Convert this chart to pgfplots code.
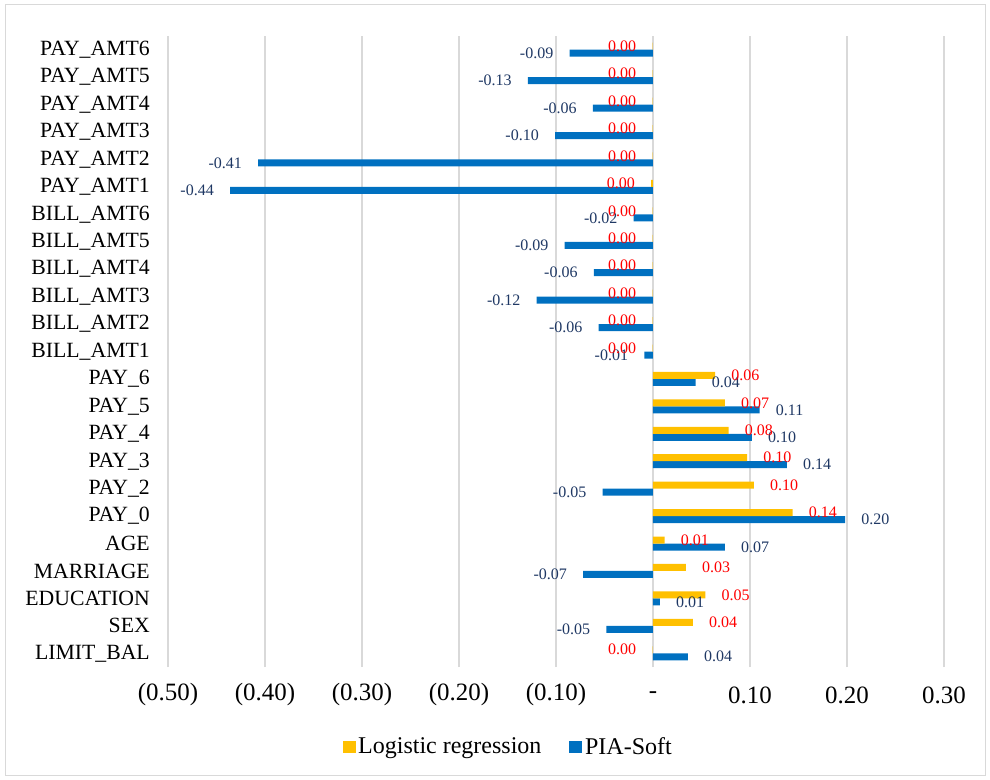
\documentclass[border=0pt]{standalone}
\usepackage{fontspec}
\setmainfont{Liberation Serif}
\usepackage{pgfplots}
\pgfplotsset{compat=1.18}
\usepackage{pgfplotstable}

\definecolor{lrYellow}{HTML}{FFC000}
\definecolor{piaBlue}{HTML}{0070C0}
\definecolor{lrLabel}{HTML}{FF0000}
\definecolor{piaLabel}{HTML}{1F3864}
\definecolor{gridGrey}{HTML}{D9D9D9}

% square legend swatches
\pgfplotsset{sqlegend/.style={legend image code/.code={\fill[##1] (0pt,-4.5pt) rectangle (9.75pt,4.5pt);}}}

% feature coefficients: logistic regression vs. PIA-Soft
\pgfplotstableread{
idx lr      lrlab pia    pialab
0   -0.0005 0.00  0.036  0.04
1   0.041   0.04  -0.048 -0.05
2   0.054   0.05  0.007  0.01
3   0.034   0.03  -0.072 -0.07
4   0.012   0.01  0.074  0.07
5   0.144   0.14  0.198  0.20
6   0.104   0.10  -0.052 -0.05
7   0.097   0.10  0.138  0.14
8   0.078   0.08  0.102  0.10
9   0.074   0.07  0.110  0.11
10  0.064   0.06  0.044  0.04
11  -0.0005 0.00  -0.009 -0.01
12  -0.0005 0.00  -0.056 -0.06
13  -0.0005 0.00  -0.120 -0.12
14  -0.0005 0.00  -0.061 -0.06
15  -0.0005 0.00  -0.091 -0.09
16  -0.0005 0.00  -0.020 -0.02
17  -0.002  0.00  -0.436 -0.44
18  -0.0005 0.00  -0.407 -0.41
19  -0.0005 0.00  -0.101 -0.10
20  -0.0005 0.00  -0.062 -0.06
21  -0.0005 0.00  -0.129 -0.13
22  -0.0005 0.00  -0.086 -0.09
}\coef

\begin{document}
\begin{tikzpicture}
\useasboundingbox (0pt,0pt) rectangle (742.5pt,-585pt);
\draw[gridGrey, line width=0.75pt] (3.75pt,-3.75pt) rectangle (738.75pt,-581.25pt);
\begin{axis}[
  at={(126pt,-500.25pt)}, anchor=south west,
  scale only axis, width=582pt, height=473.25pt,
  xbar, bar width=5.25pt,
  xmin=-0.5, xmax=0.3, ymin=-0.5, ymax=22.5,
  xtick={-0.5,-0.4,-0.3,-0.2,-0.1,0,0.1,0.2,0.3},
  xticklabels={(0.50),(0.40),(0.30),(0.20),(0.10),-,0.10,0.20,0.30},
  ytick={0,...,22},
  yticklabels={LIMIT\_BAL,SEX,EDUCATION,MARRIAGE,AGE,PAY\_0,PAY\_2,PAY\_3,PAY\_4,PAY\_5,PAY\_6,
    BILL\_AMT1,BILL\_AMT2,BILL\_AMT3,BILL\_AMT4,BILL\_AMT5,BILL\_AMT6,
    PAY\_AMT1,PAY\_AMT2,PAY\_AMT3,PAY\_AMT4,PAY\_AMT5,PAY\_AMT6},
  xmajorgrids, grid style={gridGrey, line width=1.5pt},
  axis line style={draw=none}, major tick length=0pt,
  xticklabel style={font=\fontsize{18.7}{20}\selectfont, anchor=center, yshift=-21pt},
  yticklabel style={font=\fontsize{16.3}{17}\selectfont, anchor=east, inner sep=0pt, xshift=-13.5pt},
  nodes near coords, point meta=explicit symbolic,
  visualization depends on={rawx \as \rawx},
  every node near coord/.append style={font=\fontsize{12}{12}\selectfont, inner xsep=12pt, inner ysep=0pt},
  every node near coord/.append code={%
    \ifdim\rawx pt<0pt \pgfkeysalso{/tikz/anchor=east}\else\pgfkeysalso{/tikz/anchor=west}\fi},
  legend columns=2,
  legend style={at={(0.4388,-0.1262)}, anchor=center, draw=none,
    font=\fontsize{18}{20}\selectfont,
    nodes={inner xsep=2pt, inner ysep=0pt},
    /tikz/every even column/.append style={column sep=19pt}},
]
\addplot[fill=piaBlue, draw=none, bar shift=-2.625pt, forget plot,
  every node near coord/.append style={text=piaLabel}]
  table[x=pia, y=idx, meta=pialab]{\coef};
\addplot[fill=lrYellow, draw=none, bar shift=2.625pt, forget plot,
  every node near coord/.append style={text=lrLabel}]
  table[x=lr, y=idx, meta=lrlab]{\coef};
\addlegendimage{fill=lrYellow, draw=none, sqlegend}
\addlegendentry{Logistic regression}
\addlegendimage{fill=piaBlue, draw=none, sqlegend}
\addlegendentry{PIA-Soft}
\end{axis}
\end{tikzpicture}
\end{document}
